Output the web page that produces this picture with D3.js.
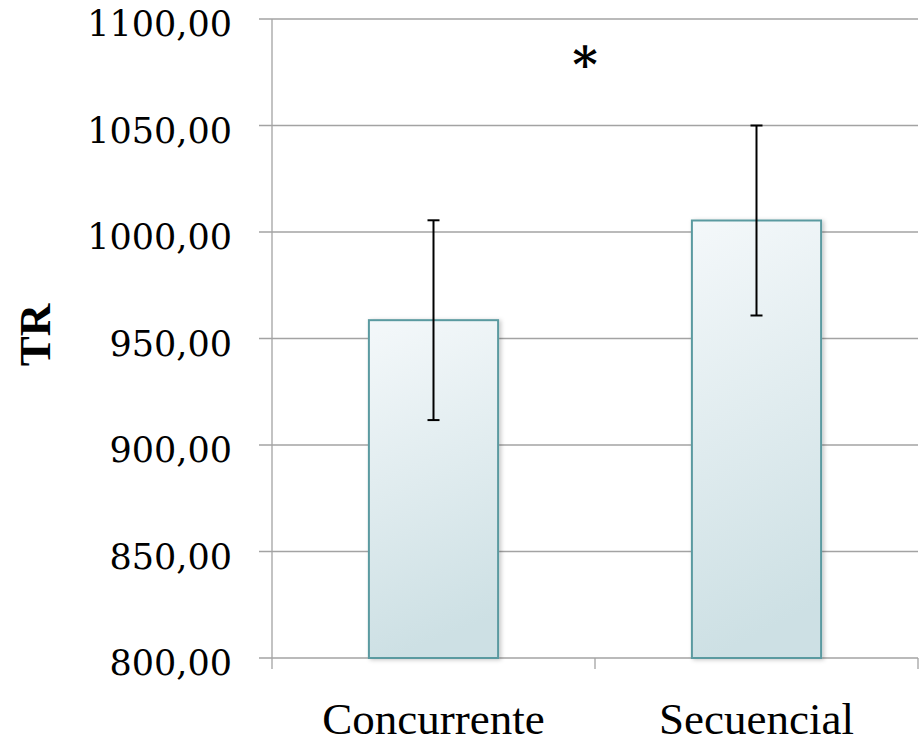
<!DOCTYPE html>
<html>
<head>
<meta charset="utf-8">
<script src="https://cdn.jsdelivr.net/npm/d3@7/dist/d3.min.js"></script>
<style>
  html, body { margin: 0; padding: 0; background: #fff; }
  svg { display: block; }
</style>
</head>
<body>
<svg id="chart" width="921" height="744"></svg>
<script>
const categories = ["Concurrente", "Secuencial"];
const means = [958.6, 1005.4];
const errors = [46.9, 44.6];
const yTicks = [800, 850, 900, 950, 1000, 1050, 1100];
const yLabel = "TR";
const annotation = "*";

const svg = d3.select("#chart");
const pLeft = 272, pRight = 918, pTop = 19, pBottom = 658;

const x = d3.scaleBand().domain(categories).range([pLeft, pRight]).padding(0);
const y = d3.scaleLinear().domain([800, 1100]).range([pBottom, pTop]);

const defs = svg.append("defs");
const grad = defs.append("linearGradient").attr("id", "barGrad")
  .attr("x1", "0").attr("y1", "0").attr("x2", "0.15").attr("y2", "1");
grad.append("stop").attr("offset", "0%").attr("stop-color", "#f4f8fa");
grad.append("stop").attr("offset", "100%").attr("stop-color", "#cde0e4");
const filt = defs.append("filter").attr("id", "shadow")
  .attr("x", "-10%").attr("y", "-10%").attr("width", "130%").attr("height", "130%");
filt.append("feDropShadow").attr("dx", 2).attr("dy", 1).attr("stdDeviation", 2)
  .attr("flood-color", "#000").attr("flood-opacity", 0.22);

// gridlines + y ticks
const gridG = svg.append("g");
gridG.selectAll("line").data(yTicks).join("line")
  .attr("x1", pLeft - 13).attr("x2", pRight)
  .attr("y1", d => y(d)).attr("y2", d => y(d))
  .attr("stroke", "#a3a3a3").attr("stroke-width", 1.3);

// y axis line
svg.append("line").attr("x1", pLeft).attr("x2", pLeft).attr("y1", pTop).attr("y2", pBottom)
  .attr("stroke", "#a3a3a3").attr("stroke-width", 1.3);

// x ticks
const xTickPos = [pLeft, pLeft + x.step(), pRight];
svg.selectAll(".xt").data(xTickPos).join("line")
  .attr("x1", d => d).attr("x2", d => d).attr("y1", pBottom).attr("y2", pBottom + 11)
  .attr("stroke", "#a3a3a3").attr("stroke-width", 1.3);

// y tick labels
const fmt = d => d3.format(".2f")(d).replace(".", ",");
svg.selectAll(".yl").data(yTicks).join("text")
  .attr("x", 232).attr("y", d => y(d) + 17)
  .attr("text-anchor", "end")
  .attr("font-family", "DejaVu Serif, serif")
  .attr("font-size", 35)
  .attr("fill", "#000")
  .text(fmt);

// bars
const bw = x.bandwidth() * 0.4;
svg.selectAll(".bar").data(categories).join("rect")
  .attr("x", d => x(d) + x.bandwidth() / 2 - bw / 2)
  .attr("width", bw)
  .attr("y", (d, i) => y(means[i]))
  .attr("height", (d, i) => y(800) - y(means[i]))
  .attr("fill", "url(#barGrad)")
  .attr("stroke", "#5a9aa0").attr("stroke-width", 2)
  .attr("filter", "url(#shadow)");

// error bars
const eg = svg.append("g").attr("stroke", "#000").attr("stroke-width", 2);
categories.forEach((c, i) => {
  const cx = x(c) + x.bandwidth() / 2;
  const y1 = y(means[i] + errors[i]), y2 = y(means[i] - errors[i]);
  eg.append("line").attr("x1", cx).attr("x2", cx).attr("y1", y1).attr("y2", y2);
  eg.append("line").attr("x1", cx - 6).attr("x2", cx + 6).attr("y1", y1).attr("y2", y1);
  eg.append("line").attr("x1", cx - 6).attr("x2", cx + 6).attr("y1", y2).attr("y2", y2);
});

// x labels
svg.selectAll(".xl").data(categories).join("text")
  .attr("x", d => x(d) + x.bandwidth() / 2)
  .attr("y", 734)
  .attr("text-anchor", "middle")
  .attr("font-family", "Liberation Serif, Times New Roman, serif")
  .attr("font-size", 45)
  .attr("fill", "#000")
  .text(d => d);

// y label
svg.append("text")
  .attr("transform", "translate(50,335) rotate(-90)")
  .attr("text-anchor", "middle")
  .attr("font-family", "Liberation Serif, Times New Roman, serif")
  .attr("font-weight", "bold")
  .attr("font-size", 45)
  .attr("fill", "#000")
  .text(yLabel);

// annotation asterisk
svg.append("text")
  .attr("x", 585).attr("y", 82)
  .attr("text-anchor", "middle")
  .attr("font-family", "DejaVu Serif, serif")
  .attr("font-weight", "bold")
  .attr("font-size", 48)
  .attr("fill", "#000")
  .text(annotation);
</script>
</body>
</html>
